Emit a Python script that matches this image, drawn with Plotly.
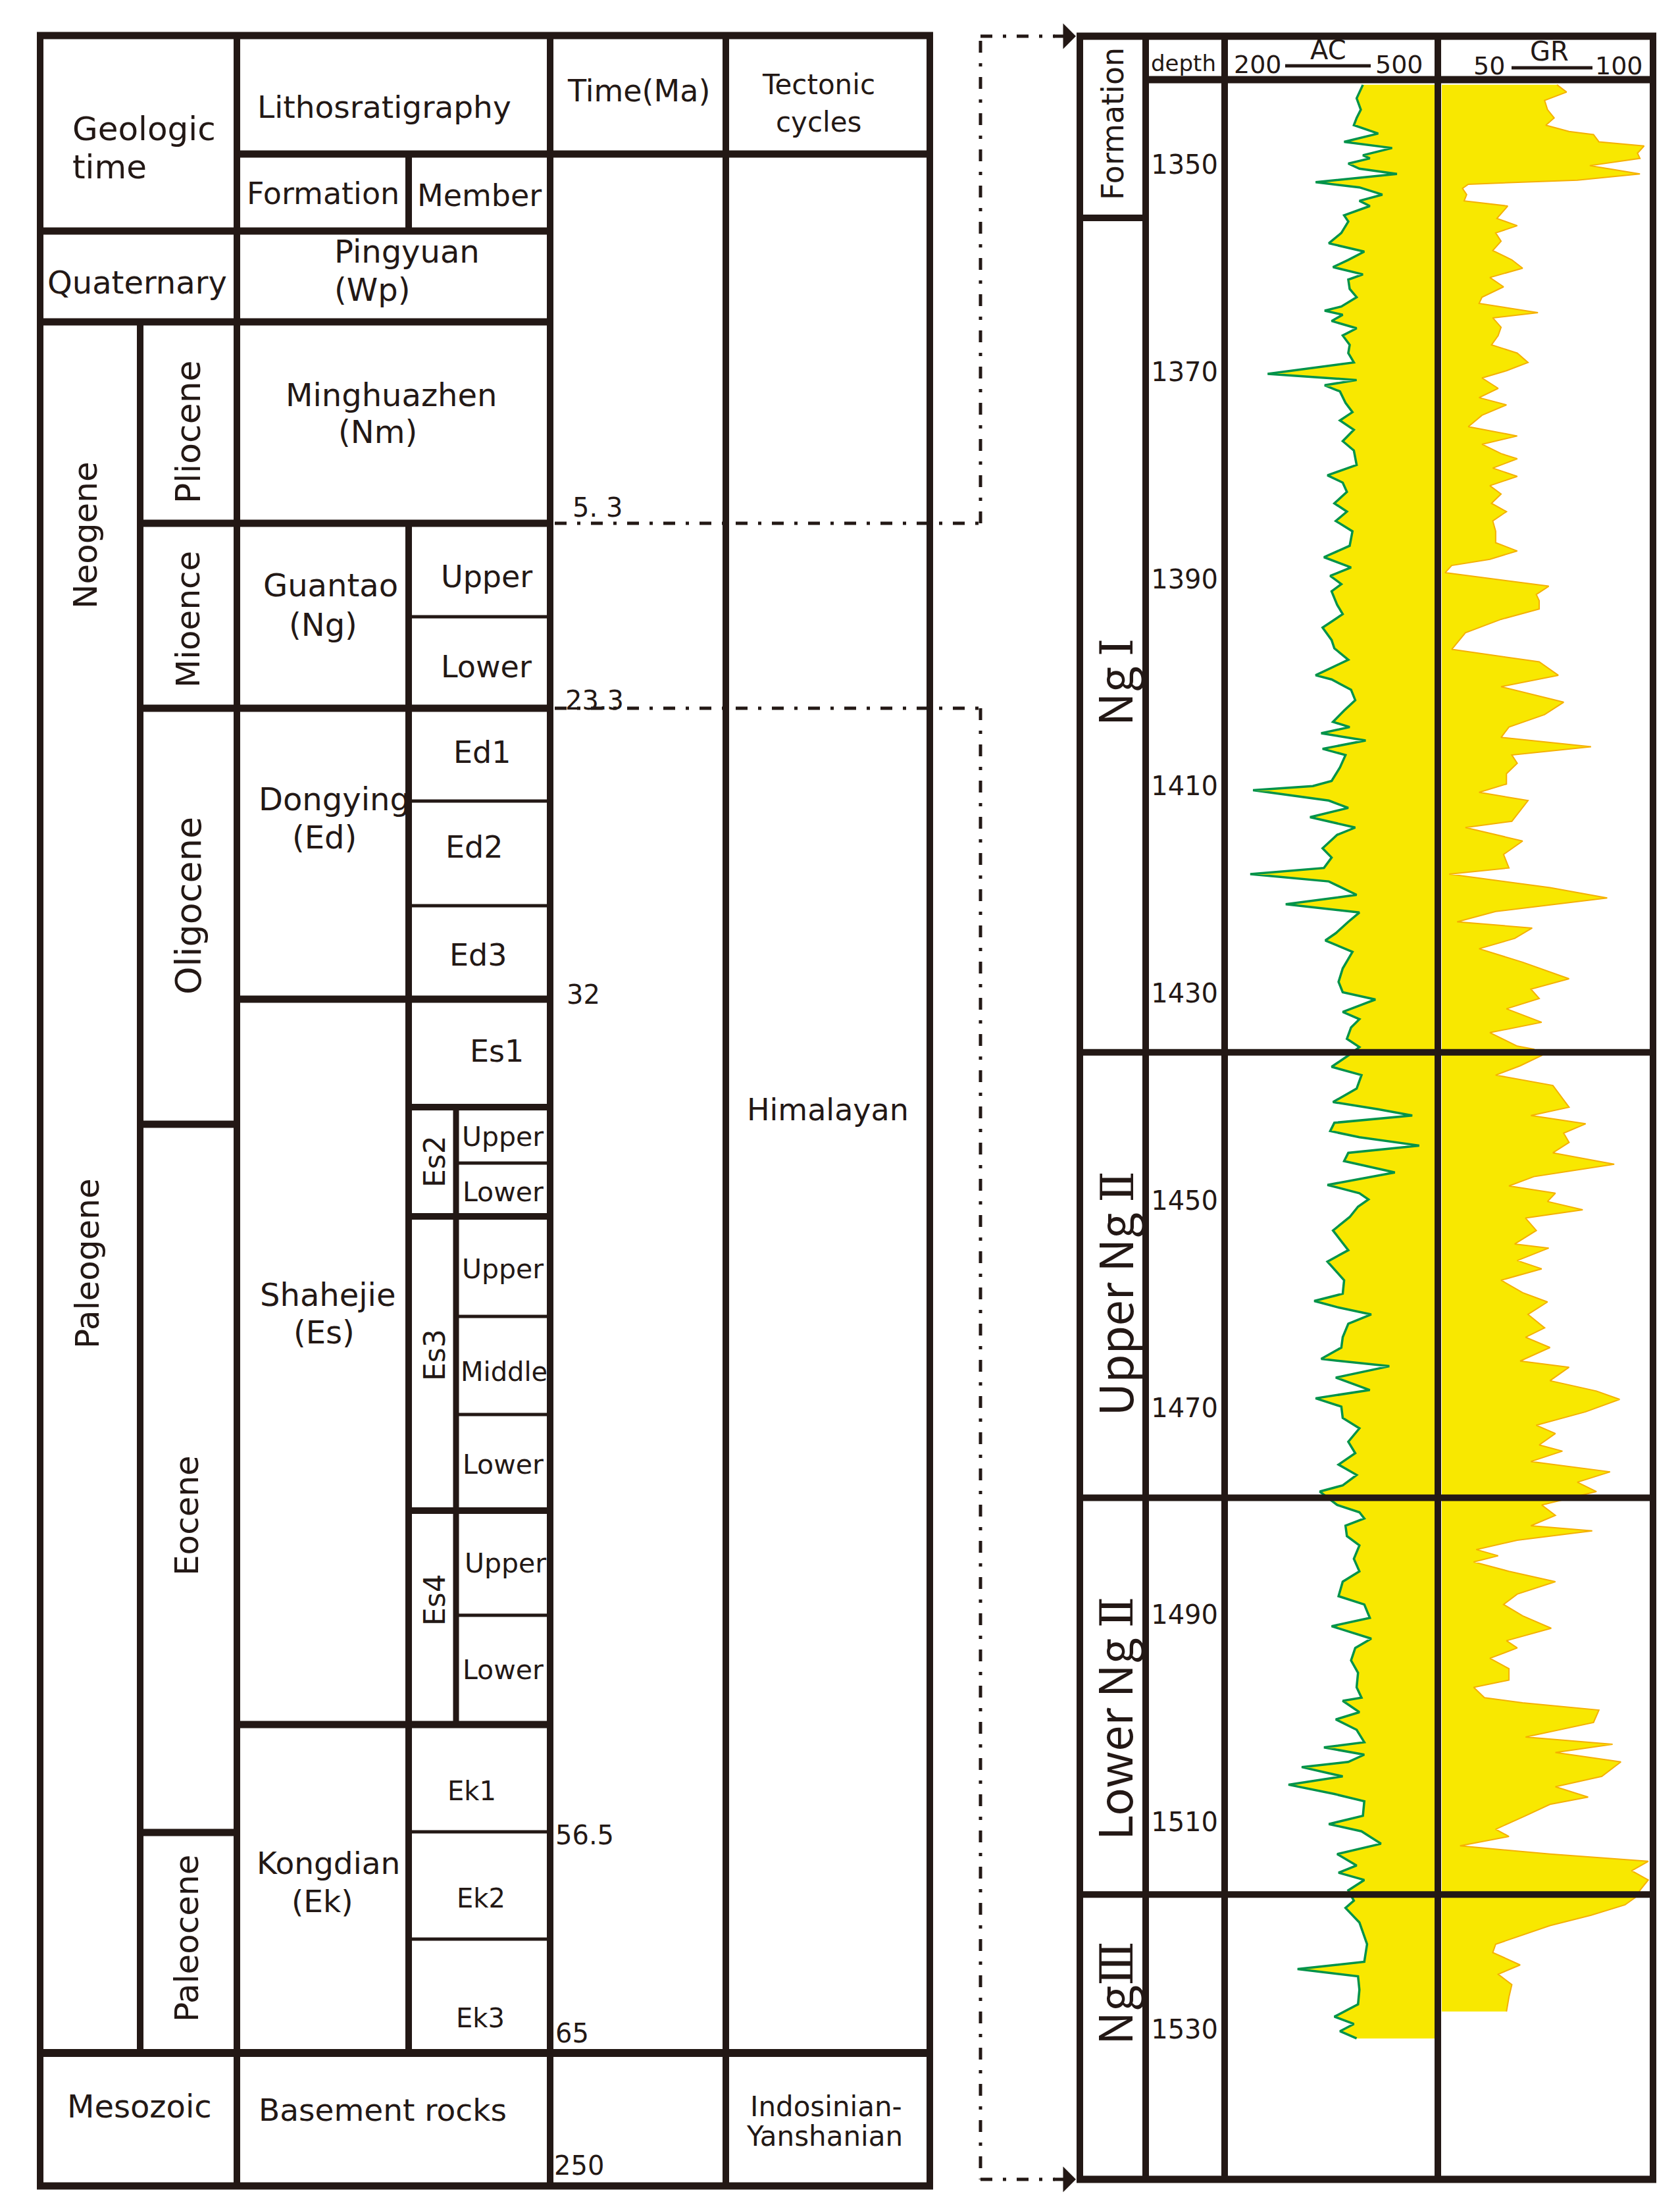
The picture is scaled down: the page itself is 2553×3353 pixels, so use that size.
import plotly.graph_objects as go

W, H = 2553, 3353
INK = "#231815"
YELLOW = "#F8E800"
GREEN = "#00934A"
ORANGE = "#F5B000"
FONT = "DejaVu Sans"
CJK = "Noto Sans CJK SC"

# ---- well log data (depth in m) ----
ac_depth = [
    1342.3, 1343.6, 1344.7, 1345.5, 1346.2, 1347.0, 1347.8, 1348.4, 1349.1, 1349.4,
    1349.9, 1350.4, 1350.9, 1351.7, 1352.2, 1352.9, 1353.5, 1354.0, 1354.9, 1355.5,
    1356.6, 1357.6, 1358.4, 1359.2, 1359.9, 1360.6, 1361.1, 1362.0, 1362.8, 1363.7,
    1364.1, 1364.5, 1365.1, 1365.8, 1366.5, 1367.4, 1368.2, 1369.1, 1370.2, 1370.8,
    1371.3, 1371.9, 1373.0, 1373.9, 1374.7, 1375.6, 1376.7, 1377.6, 1379.0, 1380.0,
    1380.7, 1381.6, 1382.7, 1383.5, 1384.4, 1385.4,
    1386.8, 1387.9, 1388.9, 1389.7, 1390.5, 1391.2, 1392.5, 1393.4, 1394.7, 1395.9,
    1396.7, 1397.8, 1399.3, 1399.7, 1400.7, 1401.7, 1402.7, 1403.8, 1404.3, 1404.9,
    1405.6, 1406.4, 1407.0, 1408.2, 1409.5, 1410.0, 1410.4, 1411.4, 1412.1, 1413.0,
    1414.0, 1414.7, 1416.0, 1416.9, 1417.9, 1418.5, 1419.2, 1420.5, 1421.4, 1422.2,
    1423.1, 1424.2, 1424.9, 1426.0, 1427.6, 1428.9, 1429.9, 1430.6, 1431.8, 1432.5,
    1433.3, 1434.4, 1435.2,
    1436.0, 1437.1, 1437.9, 1439.2, 1440.5, 1441.2, 1441.8, 1442.5, 1443.3, 1443.9,
    1444.7, 1445.4, 1446.2, 1447.3, 1448.5, 1449.3, 1449.9, 1450.6, 1451.6, 1452.9,
    1453.8, 1454.8, 1455.9, 1457.7, 1459.0, 1459.7, 1460.3, 1461.0, 1461.9, 1463.2,
    1464.2, 1465.3, 1466.0, 1467.1, 1468.3, 1469.1, 1469.9, 1471.0, 1472.0, 1473.3,
    1474.4, 1475.5, 1476.5, 1477.5, 1478.1,
    1479.4, 1480.1, 1480.7, 1481.4, 1482.4, 1483.3, 1484.6, 1485.8, 1486.8, 1488.2,
    1489.0, 1490.3, 1491.1, 1492.3, 1493.2, 1494.4, 1495.6, 1497.0, 1498.0, 1498.3,
    1499.4, 1500.1, 1501.1, 1502.3, 1502.8, 1503.5, 1504.2, 1504.7, 1505.6, 1506.4,
    1507.3, 1508.0, 1509.4, 1510.2, 1510.9, 1512.1, 1513.1, 1514.2, 1514.9, 1515.6,
    1516.6,
    1517.6, 1518.3, 1519.7, 1521.8, 1523.5, 1524.2, 1524.9, 1526.2, 1527.6, 1528.8,
    1529.5, 1530.2, 1530.9,
]
ac_value = [
    396, 387, 393, 387, 383, 418, 369, 438, 396, 406,
    375, 391, 445, 328, 391, 424, 391, 406, 369, 375,
    365, 347, 398, 375, 353, 396, 375, 377, 387, 365,
    341, 367, 351, 387, 367, 377, 375, 383, 259, 387,
    341, 363, 371, 381, 363, 383, 367, 383, 387, 345,
    367, 373, 355, 373, 357, 381,
    377, 340, 379, 349, 365, 351, 359, 367, 338, 351,
    355, 375, 328, 351, 379, 385, 369, 353, 377, 336,
    400, 338, 371, 363, 351, 324, 238, 347, 375, 320,
    385, 359, 338, 351, 340, 234, 347, 387, 285, 391,
    375, 357, 342, 381, 367, 361, 367, 414, 367, 391,
    379, 373, 391,
    375, 351, 394, 387, 353, 418, 467, 355, 349, 391,
    477, 375, 369, 442, 345, 391, 404, 389, 377, 353,
    363, 375, 345, 369, 367, 326, 359, 408, 375, 367,
    365, 336, 434, 357, 406, 328, 365, 367, 391, 375,
    385, 361, 387, 367, 334,
    359, 391, 398, 371, 373, 391, 383, 391, 367, 361,
    398, 406, 351, 408, 385, 379, 389, 387, 394, 367,
    391, 357, 387, 398, 340, 398, 375, 308, 367, 289,
    355, 398, 396, 347, 394, 422, 359, 387, 361, 398,
    375,
    383, 371, 391, 402, 398, 302, 389, 391, 389, 355,
    383, 363, 387,
]

gr_depth = [
    1342.3, 1343.0, 1343.8, 1344.7, 1345.5, 1346.2, 1346.8, 1347.1, 1347.8, 1348.2,
    1348.9, 1349.4, 1350.1, 1350.9, 1351.5, 1351.9, 1352.3, 1352.9, 1353.5, 1354.0,
    1355.2, 1355.9, 1356.6, 1357.4, 1358.3, 1359.2, 1360.0, 1360.9, 1361.8, 1362.8,
    1363.4, 1364.3, 1364.8, 1365.7, 1366.5, 1367.4, 1368.2, 1369.1, 1369.9, 1370.6,
    1371.6, 1372.5, 1373.2, 1374.2, 1375.3, 1376.2, 1377.0, 1377.9, 1378.4, 1379.3,
    1380.1, 1381.0, 1381.8, 1382.7, 1383.5, 1384.4, 1385.4,
    1386.5, 1387.3, 1388.1, 1388.7, 1389.4, 1390.7, 1391.5, 1392.1, 1392.9, 1393.9,
    1395.2, 1396.8, 1398.0, 1399.3, 1400.4, 1401.9, 1403.1, 1404.3, 1405.3, 1406.2,
    1407.0, 1407.8, 1408.8, 1409.8, 1410.6, 1411.4, 1412.4, 1413.4, 1414.0, 1415.3,
    1416.6, 1417.9, 1418.5, 1419.8, 1420.8, 1422.1, 1423.1, 1423.7, 1424.7, 1425.7,
    1427.0, 1428.6, 1429.6, 1430.5, 1431.5, 1432.8, 1433.8, 1435.1, 1435.4,
    1436.0, 1437.0, 1437.9, 1438.9, 1439.9, 1441.0, 1441.8, 1442.6, 1443.5, 1444.4,
    1445.4, 1446.5, 1447.7, 1448.6, 1449.3, 1450.1, 1450.9, 1451.7, 1452.9, 1454.2,
    1454.6, 1455.8, 1456.6, 1457.7, 1458.9, 1459.8, 1461.0, 1462.3, 1463.2, 1464.2,
    1465.5, 1466.1, 1467.4, 1468.4, 1469.2, 1470.4, 1471.7, 1472.5, 1473.6, 1474.2,
    1475.2, 1476.2, 1477.2, 1478.1,
    1479.4, 1480.4, 1481.4, 1481.9, 1482.8, 1483.7, 1484.3, 1484.9, 1485.8, 1486.8,
    1488.0, 1489.0, 1490.1, 1491.3, 1492.5, 1493.2, 1494.2, 1495.2, 1496.3, 1497.0,
    1498.0, 1498.5, 1499.2, 1500.4, 1501.8, 1502.5, 1503.3, 1504.2, 1505.6, 1506.6,
    1507.6, 1508.3, 1509.4, 1510.7, 1511.4, 1512.3, 1513.1, 1513.8, 1514.7, 1515.6,
    1516.6,
    1517.2, 1518.0, 1519.0, 1520.0, 1521.8, 1522.6, 1523.8, 1524.7, 1525.7, 1526.9,
    1528.1, 1528.3,
]
gr_value = [
    77.8, 80.1, 74.8, 75.5, 77.1, 75.1, 80.7, 86.6, 87.9, 98.8,
    97.2, 97.8, 85.7, 97.8, 82.7, 56.4, 55.0, 56.0, 55.4, 65.9,
    63.3, 68.2, 63.0, 64.3, 62.3, 66.9, 69.5, 61.6, 64.9, 59.7,
    59.0, 73.2, 62.3, 64.3, 63.6, 62.0, 68.2, 70.8, 65.6, 59.7,
    63.6, 59.0, 65.6, 59.7, 56.4, 68.2, 59.7, 64.3, 68.2, 62.3,
    68.2, 61.6, 64.3, 62.0, 65.6, 62.3, 63.0,
    63.0, 68.2, 61.6, 52.4, 50.8, 75.8, 72.8, 73.5, 73.5, 64.3,
    55.7, 52.4, 73.5, 78.1, 64.3, 79.4, 74.8, 66.2, 64.3, 86.0,
    66.9, 68.2, 65.6, 65.6, 59.0, 70.8, 68.9, 66.9, 55.7, 69.5,
    64.9, 66.2, 51.8, 76.1, 89.9, 63.0, 53.7, 71.8, 67.6, 59.0,
    69.5, 80.7, 71.5, 73.5, 65.6, 74.1, 61.6, 68.2, 72.2,
    74.1, 68.9, 63.0, 76.8, 78.7, 80.7, 71.5, 84.7, 79.4, 80.7,
    76.8, 91.6, 72.2, 66.2, 77.4, 75.5, 84.0, 70.2, 72.8, 67.6,
    75.8, 68.2, 74.1, 64.3, 69.5, 75.5, 70.8, 74.8, 70.2, 76.1,
    68.9, 80.7, 76.1, 87.3, 92.9, 84.7, 72.8, 77.4, 73.5, 79.1,
    71.5, 90.6, 82.7, 87.3,
    74.1, 77.4, 71.5, 86.3, 68.2, 58.3, 63.6, 57.7, 66.2, 77.4,
    68.2, 64.9, 69.5, 76.4, 65.6, 68.2, 61.6, 66.2, 66.2, 57.7,
    60.3, 69.5, 87.9, 86.6, 70.2, 91.2, 77.4, 93.2, 88.6, 77.4,
    85.3, 76.1, 70.2, 63.0, 66.2, 54.4, 76.1, 99.8, 95.8, 99.8,
    97.8,
    97.0, 94.2, 86.0, 76.1, 63.0, 62.3, 68.9, 63.6, 66.9, 66.2,
    65.6, 65.6,
]

depth_ticks = [1350, 1370, 1390, 1410, 1430, 1450, 1470, 1490, 1510, 1530]
roman = "<span style='font-family:DejaVu Serif'>{}</span>"
formation_names = ["Ng " + roman.format("Ⅰ"), "Upper Ng " + roman.format("Ⅱ"),
                   "Lower Ng " + roman.format("Ⅱ"), "Ng" + roman.format("Ⅲ")]
formation_label_depth = [1400.0, 1459.0, 1500.0, 1526.5]
formation_bottoms = [1435.7, 1478.7, 1517.0]

time_ma = ["5. 3", "23.3", "32", "56.5", "65", "250"]

# ---- figure ----
fig = go.Figure()

# invisible anchor trace for the page-space axes
fig.add_trace(go.Scatter(x=[0, W], y=[0, H], mode="markers",
                         marker=dict(opacity=0), hoverinfo="skip"))

fig.add_trace(go.Scatter(
    x=ac_value + [500, 500], y=ac_depth + [ac_depth[-1], ac_depth[0]],
    fill="toself", fillcolor=YELLOW, mode="lines", line=dict(width=0),
    xaxis="x2", yaxis="y2", hoverinfo="skip"))
fig.add_trace(go.Scatter(
    x=ac_value, y=ac_depth, mode="lines", line=dict(color=GREEN, width=3.5),
    xaxis="x2", yaxis="y2", name="AC"))

fig.add_trace(go.Scatter(
    x=[50] + gr_value + [50], y=[gr_depth[0]] + gr_depth + [gr_depth[-1]],
    fill="toself", fillcolor=YELLOW, mode="lines", line=dict(width=0),
    xaxis="x3", yaxis="y2", hoverinfo="skip"))
fig.add_trace(go.Scatter(
    x=gr_value, y=gr_depth, mode="lines", line=dict(color=ORANGE, width=2),
    xaxis="x3", yaxis="y2", name="GR"))

shapes = []


def hline(y, x0, x1, w=10, yref="y", dash=None):
    shapes.append(dict(type="line", xref="x", yref=yref, x0=x0, x1=x1, y0=y, y1=y,
                       line=dict(color=INK, width=w, dash=dash)))


def vline(x, y0, y1, w=10, dash=None):
    shapes.append(dict(type="line", xref="x", yref="y", x0=x, x1=x, y0=y0, y1=y1,
                       line=dict(color=INK, width=w, dash=dash)))


# stratigraphic table frame
for x in (53, 352, 828, 1095, 1405):
    vline(x, 41, 3318)
vline(205, 481, 3111)
vline(613, 226, 343)
vline(613, 787, 3111)
vline(685, 1674, 2612, 9)

hline(46, 48, 1410, 11)
hline(226, 352, 1405, 11)
hline(343, 53, 828, 11)
hline(481, 53, 828, 11)
hline(787, 205, 828, 11)
hline(1068, 205, 828, 11)
hline(1510, 352, 828, 11)
hline(1674, 613, 828, 10)
hline(1700, 205, 352, 11)
hline(1840, 613, 828, 10)
hline(2287, 613, 828, 10)
hline(2612, 352, 828, 11)
hline(2776, 205, 352, 11)
hline(3111, 53, 1405, 12)
hline(3313, 48, 1410, 11)
for y in (929, 1209, 1368, 2775, 2938):
    hline(y, 613, 828, 5)
for y in (1759, 1992, 2141, 2446):
    hline(y, 685, 828, 5)

# log panel frame
for x in (1633, 1733, 1853, 2177, 2504):
    vline(x, 42, 3308)
hline(47, 1628, 2509, 11)
hline(113, 1733, 2504, 11)
hline(323, 1633, 1733, 10)
hline(3303, 1628, 2509, 11)
for d in formation_bottoms:
    hline(d, 1633, 2504, 10, yref="y2")
hline(92, 1945, 2075, 5)
hline(95, 2289, 2412, 5)

# dash-dot connectors
dd = "18px,16px,5px,16px"
hline(787, 835, 1482, 5, dash=dd)
hline(1068, 835, 1482, 5, dash=dd)
vline(1482, 787, 47, 5, dash=dd)
vline(1482, 1068, 3303, 5, dash=dd)
hline(47, 1482, 1595, 5, dash=dd)
hline(3303, 1482, 1595, 5, dash=dd)

annotations = []


def label(text, x, y, size, angle=0, anchor="center", family=FONT, yref="y"):
    annotations.append(dict(text=text, x=x, y=y, xref="x", yref=yref, showarrow=False,
                            textangle=angle, xanchor=anchor, yanchor="middle",
                            font=dict(family=family, size=size, color=INK)))


for yy in (47, 3303):
    annotations.append(dict(text="", x=1627, y=yy, ax=1592, ay=yy, xref="x", yref="y",
                            axref="x", ayref="y", showarrow=True, arrowhead=1,
                            arrowsize=1.3, arrowwidth=5, arrowcolor=INK, standoff=0))

# header
label("Geologic", 100, 188, 50, anchor="left")
label("time", 100, 246, 50, anchor="left")
label("Lithosratigraphy", 576, 154, 47)
label("Formation", 483, 286, 46)
label("Member", 720, 289, 46)
label("Time(Ma)", 962, 130, 46)
label("Tectonic", 1236, 120, 42)
label("cycles", 1236, 177, 42)
label("Quaternary", 200, 421, 48)
label("Pingyuan", 498, 374, 48, anchor="left")
label("(Wp)", 498, 432, 48, anchor="left")

# periods / epochs
label("Neogene", 122, 805, 50, angle=-90)
label("Paleogene", 125, 1912, 50, angle=-90)
label("Pliocene", 278, 648, 52, angle=-90)
label("Mioence", 278, 933, 50, angle=-90)
label("Oligocene", 278, 1368, 54, angle=-90)
label("Eocene", 276, 2295, 50, angle=-90)
label("Paleocene", 276, 2937, 50, angle=-90)

# formations and members
label("Minghuazhen", 586, 592, 48)
label("(Nm)", 566, 648, 48)
label("Guantao", 494, 881, 48)
label("(Ng)", 483, 941, 48)
label("Upper", 731, 868, 46)
label("Lower", 731, 1005, 46)
label("Dongying", 500, 1206, 48)
label("(Ed)", 485, 1264, 48)
label("Ed1", 725, 1135, 46)
label("Ed2", 713, 1279, 46)
label("Ed3", 719, 1443, 46)
label("Es1", 747, 1589, 46)
label("Es2", 652, 1757, 44, angle=-90)
label("Upper", 756, 1719, 41)
label("Lower", 756, 1803, 41)
label("Shahejie", 490, 1959, 48)
label("(Es)", 484, 2016, 48)
label("Es3", 652, 2051, 44, angle=-90)
label("Upper", 756, 1920, 41)
label("Middle", 758, 2076, 40)
label("Lower", 756, 2217, 41)
label("Es4", 652, 2423, 44, angle=-90)
label("Upper", 760, 2367, 41)
label("Lower", 756, 2529, 41)
label("Kongdian", 491, 2822, 47)
label("(Ek)", 482, 2880, 47)
label("Ek1", 709, 2713, 40)
label("Ek2", 723, 2876, 40)
label("Ek3", 722, 3058, 40)
label("Mesozoic", 204, 3192, 48)
label("Basement rocks", 573, 3197, 47)
label("Himalayan", 1250, 1678, 46)
label("Indosinian-", 1247, 3192, 42)
label("Yanshanian", 1245, 3237, 42)

for t, x, y in zip(time_ma, [860, 849, 851, 834, 834, 832], [763, 1056, 1503, 2780, 3081, 3282]):
    label(t, x, y, 40, anchor="left")

# log panel header
label("Formation", 1683, 180, 46, angle=-90)
label("depth", 1790, 88, 34)
label("200", 1903, 90, 38)
label("AC", 2010, 68, 40)
label("500", 2118, 90, 38)
label("50", 2255, 92, 38)
label("GR", 2346, 70, 40)
label("100", 2452, 92, 38)
for name, d in zip(formation_names, formation_label_depth):
    label(name, 1683, d, 70, angle=-90, family=CJK, yref="y2")

hidden = dict(visible=False, showgrid=False, zeroline=False, fixedrange=True)
fig.update_layout(
    width=W, height=H,
    margin=dict(l=0, r=0, t=0, b=0),
    paper_bgcolor="white", plot_bgcolor="rgba(0,0,0,0)",
    showlegend=False,
    xaxis=dict(range=[0, W], domain=[0, 1], **hidden),
    yaxis=dict(range=[H, 0], domain=[0, 1], **hidden),
    xaxis2=dict(range=[200, 500], domain=[1856 / W, 2173 / W], anchor="y2", **hidden),
    xaxis3=dict(range=[50, 100], domain=[2183 / W, 2498 / W], anchor="y2", **hidden),
    yaxis2=dict(range=[1544.5, 1341.8], domain=[1 - 3303 / H, 1 - 113 / H], anchor="x2",
                tickvals=depth_ticks, ticks="", showgrid=False, zeroline=False,
                showline=False, ticklabelstandoff=12,
                tickfont=dict(family=FONT, size=40, color=INK)),
    shapes=shapes,
    annotations=annotations,
)

fig.write_html("out.html")
